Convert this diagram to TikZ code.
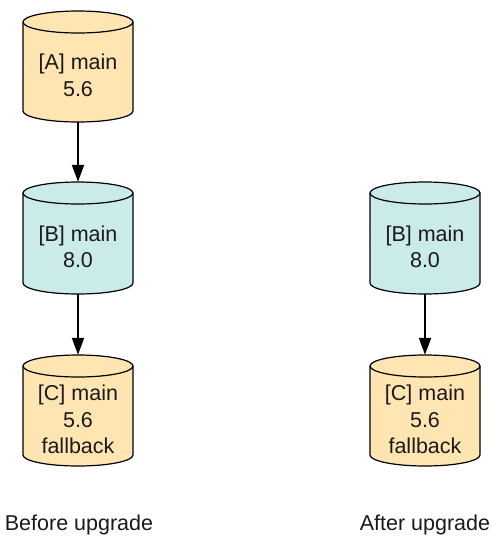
\documentclass[tikz,border=0pt]{standalone}
\usepackage{fontspec}
\setmainfont{Liberation Sans}
\usetikzlibrary{arrows.meta}
\definecolor{dbyellow}{HTML}{FFE5B2}
\definecolor{dbblue}{HTML}{CBEBEB}
\definecolor{txt}{HTML}{1A1A1A}
\tikzset{
  cylline/.style={draw=black, line width=1.2pt},
  cylbox/.style={draw=none, inner sep=0pt, minimum width=110pt},
  cyltext/.style={align=center, text=txt, font=\fontsize{21.5}{26.5}\selectfont, inner sep=0pt},
  arr/.style={line width=2pt, -{Triangle[length=17pt,width=12pt]}},
  caption/.style={text=txt, font=\fontsize{21.5}{26}\selectfont, inner sep=0pt}
}
% #1 name, #2 center x, #3 top y, #4 bottom y (image coords), #5 fill, #6 text
\newcommand\drawcyl[6]{%
  \path[cylline, fill=#5] (#2-55, -#3-11) -- (#2-55, -#4+11)
     arc[start angle=180, end angle=360, x radius=55pt, y radius=11pt]
     -- (#2+55, -#3-11)
     arc[start angle=0, end angle=180, x radius=55pt, y radius=11pt] -- cycle;
  \draw[cylline] (#2-55, -#3-11)
     arc[start angle=180, end angle=360, x radius=55pt, y radius=11pt];
  \node[cylbox, minimum height={(#4-#3)*1pt}] (#1) at (#2, -#3/2-#4/2) {};
  \node[cyltext] (#1t) at (#2, -#3/2-#4/2-9) {#6};
}
\begin{document}
\begin{tikzpicture}[x=1pt, y=1pt]
  \useasboundingbox (0,0) rectangle (500,-547);
  % before upgrade
  \drawcyl{A}{78}{11}{122}{dbyellow}{[A] main\\5.6}
  \drawcyl{B}{78}{182}{294}{dbblue}{[B] main\\8.0}
  \drawcyl{C}{78}{355}{466}{dbyellow}{[C] main\\5.6\\fallback}
  % after upgrade
  \drawcyl{B2}{425}{182}{294}{dbblue}{[B] main\\8.0}
  \drawcyl{C2}{425}{355}{466}{dbyellow}{[C] main\\5.6\\fallback}
  \draw[arr] (A.south) -- (B.north);
  \draw[arr] (B.south) -- (C.north);
  \draw[arr] (B2.south) -- (C2.north);
  \node[caption] (before) at (79, -525) {Before upgrade};
  \node[caption] (after) at (425, -525) {After upgrade};
\end{tikzpicture}
\end{document}
